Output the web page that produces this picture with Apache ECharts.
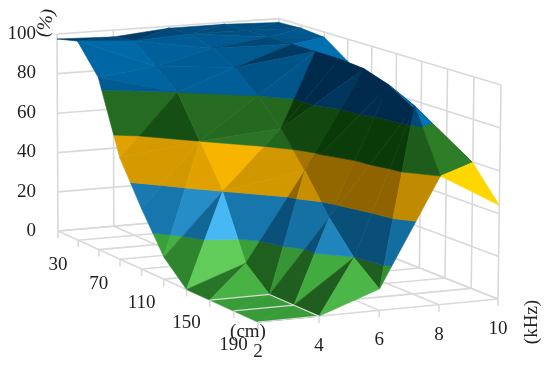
<!DOCTYPE html>
<html><head><meta charset="utf-8">
<style>html,body{margin:0;padding:0;background:#fff}#c{width:550px;height:368px}</style>
<script src="https://cdn.jsdelivr.net/npm/echarts@6/dist/echarts.min.js"></script>
</head><body><div id="c"></div>
<script>
const kHzValues = [2, 4, 6, 8, 10];
const cmValues = [30, 50, 70, 90, 110, 130, 150, 170, 190, 210];
const cmLabels = ['30', '', '70', '', '110', '', '150', '', '190', ''];
const kHzLabels = ['2', '4', '6', '8', '10'];
const pctTicks = [0, 20, 40, 60, 80, 100];
// response (%) by kHz column, one value per cm row
const at2kHz = [97.5, 100, 85.5, 50, 29.5, 10.7, 0, 0, 0, 0];
const at4kHz = [96.5, 98, 89, 80, 60, 40, 10, 0, 0, 0];
const at6kHz = [99, 99.5, 96, 90, 80, 68, 52, 34, 19.8, 10];
const at8kHz = [99, 99.5, 99.5, 99.5, 99.5, 99.5, 98.5, 94.5, 88.5, 60];
const at10kHz = [98, 98.5, 97.4, 89, 80, 72, 67, 62, 59.6, 44];
const surface = [at2kHz, at4kHz, at6kHz, at8kHz, at10kHz];
// quads split along the lower diagonal instead of the ridge
const valleyQuads = ['3,8', '2,4'];
// facets whose light differs from the plain normal-based shade (kHz index, cm index, facet[, band low])
const facetLight = { '0,3,0': 0.36, '0,3,0,40': 0.55, '0,4,1': 0.66, '1,4,1': 0.88, '0,5,1': 0.95, '0,6,1': 0.68 };

// camera: homogeneous projection of the unit cube (u=kHz, v=cm, n=%) onto the plot plane
const CAM = { xu: 225.36, xv: 173.94, xn: -1.48, x0: 58, yu: -14.91, yv: 58.48, yn: -197.3, y0: 231, wu: 0.01928, wv: -0.101, wn: -0.0085 };
const unit = (k, c, p) => [(k - kHzValues[0]) / (kHzValues[4] - kHzValues[0]), (c - cmValues[0]) / (cmValues[9] - cmValues[0]), p / 100];
function toAxes(k, c, p) {
  const [u, v, n] = unit(k, c, p);
  const w = 1 + CAM.wu * u + CAM.wv * v + CAM.wn * n;
  const sx = (CAM.xu * u + CAM.xv * v + CAM.xn * n + CAM.x0) / w;
  const sy = (CAM.yu * u + CAM.yv * v + CAM.yn * n + CAM.y0) / w;
  return [sx, (231 - sy) * 100 / 197];
}
const depth = (k, c, p) => { const [u, v, n] = unit(k, c, p); return 1 + CAM.wu * u + CAM.wv * v + CAM.wn * n; };

// bands: [low, high, colours from shadow to full light]
const bands = [
  [0, 20, ['#1f5e1e', '#3ba43b', '#5ac452', '#66d060']],
  [20, 40, ['#0a4f78', '#1878ae', '#3fb0f0', '#4cbcf8']],
  [40, 60, ['#8f6400', '#d49a00', '#f5ac00', '#ffd800']],
  [60, 80, ['#0a3a08', '#246820', '#2a7024', '#2f8028']],
  [80, 100, ['#002a4c', '#005488', '#0066a4', '#0075b8']]
];
const shadeStops = [0.2, 0.55, 0.85, 1];
const LIGHT = [0.42, 0.72, 0.5];
function shadeOf(a, b, c) {
  const A = unit(...a), B = unit(...b), C = unit(...c);
  const e = [B[0] - A[0], B[1] - A[1], B[2] - A[2]], f = [C[0] - A[0], C[1] - A[1], C[2] - A[2]];
  let n = [e[1] * f[2] - e[2] * f[1], e[2] * f[0] - e[0] * f[2], e[0] * f[1] - e[1] * f[0]];
  if (n[2] < 0) n = n.map(x => -x);
  const len = Math.hypot(...n);
  const l = Math.hypot(...LIGHT);
  return Math.max(0, (n[0] * LIGHT[0] + n[1] * LIGHT[1] + n[2] * LIGHT[2]) / (len * l));
}
function colorFor(band, s) {
  const cols = band[2];
  const rgb = h => [1, 3, 5].map(i => parseInt(h.substr(i, 2), 16));
  let k = 0;
  while (k < shadeStops.length - 2 && s > shadeStops[k + 1]) k++;
  const t = Math.min(1, Math.max(0, (s - shadeStops[k]) / (shadeStops[k + 1] - shadeStops[k])));
  const p = rgb(cols[k]), q = rgb(cols[k + 1]);
  return 'rgb(' + p.map((x, i) => Math.round(x + (q[i] - x) * t)).join(',') + ')';
}
function clipBand(tri, lo, hi) {
  const clip = (poly, keep, lim) => {
    const out = [];
    poly.forEach((p, i) => {
      const q = poly[(i + 1) % poly.length];
      const pin = keep(p[2]), qin = keep(q[2]);
      if (pin) out.push(p);
      if (pin !== qin) {
        const t = (lim - p[2]) / (q[2] - p[2]);
        out.push([p[0] + (q[0] - p[0]) * t, p[1] + (q[1] - p[1]) * t, lim]);
      }
    });
    return out;
  };
  let poly = clip(tri, z => z >= lo, lo);
  if (poly.length) poly = clip(poly, z => z <= hi, hi);
  return poly;
}

const V = (i, j) => [kHzValues[i], cmValues[j], surface[i][j]];
const tris = [];
for (let i = 0; i < 4; i++) for (let j = 0; j < 9; j++) {
  const a = V(i, j), b = V(i + 1, j), c = V(i, j + 1), d = V(i + 1, j + 1);
  const ridge = a[2] + d[2] > b[2] + c[2];
  const alongAD = valleyQuads.includes(i + ',' + j) ? !ridge : ridge;
  const pair = alongAD ? [[a, b, d], [a, d, c]] : [[a, b, c], [b, d, c]];
  pair.forEach((pts, f) => { pts.key = i + ',' + j + ',' + f; tris.push(pts); });
}
const meanDepth = t => (depth(...t[0]) + depth(...t[1]) + depth(...t[2])) / 3;
tris.sort((p, q) => meanDepth(q) - meanDepth(p));
const polys = [];
tris.forEach(t => {
  const base = shadeOf(t[0], t[1], t[2]);
  bands.forEach(b => {
    const bandKey = t.key + ',' + b[0];
    const s = bandKey in facetLight ? facetLight[bandKey] : t.key in facetLight ? facetLight[t.key] : base;
    const poly = clipBand(t, b[0], b[1]);
    if (poly.length > 2) polys.push({ poly, color: colorFor(b, s) });
  });
});

// walls and floor
const K0 = kHzValues[0], K1 = kHzValues[4], C0 = cmValues[0], C1 = cmValues[9];
const gridLines = [];
pctTicks.forEach(p => { gridLines.push([[K0, C0, p], [K1, C0, p]], [[K1, C0, p], [K1, C1, p]]); });
kHzValues.forEach(k => { gridLines.push([[k, C0, 0], [k, C0, 100]], [[k, C0, 0], [k, C1, 0]]); });
cmValues.forEach(c => { gridLines.push([[K1, c, 0], [K1, c, 100]], [[K0, c, 0], [K1, c, 0]]); });
// grid seen on the surface where it lies flat on the floor
const flatLines = [];
for (let i = 0; i < 4; i++) for (let j = 0; j < 10; j++) if (surface[i][j] === 0 && surface[i + 1][j] === 0) flatLines.push([V(i, j), V(i + 1, j)]);
for (let i = 1; i < 5; i++) for (let j = 0; j < 9; j++) if (surface[i][j] === 0 && surface[i][j + 1] === 0) flatLines.push([V(i, j), V(i, j + 1)]);

const ticks = [];
cmValues.forEach((c, j) => ticks.push({ at: [K0, c, 0], label: cmLabels[j], dy: 34 }));
kHzValues.forEach((k, i) => ticks.push({ at: [k, C1, 0], label: kHzLabels[i], dy: 30 }));

const FONT = '"Liberation Serif", serif';
const FS = 19;
const GREY = '#d9d9d9';
const lineRender = (list, stroke, width) => (params, api) => {
  const [a, b] = list[params.dataIndex];
  const p = api.coord(toAxes(...a)), q = api.coord(toAxes(...b));
  return { type: 'line', silent: true, shape: { x1: p[0], y1: p[1], x2: q[0], y2: q[1] }, style: { stroke, lineWidth: width } };
};
const idx = list => list.map((_, i) => [i]);

const chart = echarts.init(document.getElementById('c'), null, { renderer: 'canvas' });
chart.setOption({
  animation: false,
  backgroundColor: '#fff',
  grid: { left: 57, right: 50, top: 34, bottom: 137, containLabel: false },
  xAxis: { type: 'value', min: 57, max: 500, show: false },
  yAxis: {
    type: 'value', min: 0, max: 100, interval: 20,
    axisLine: { show: false }, axisTick: { show: false }, splitLine: { show: false },
    axisLabel: { margin: 21, color: '#222', fontFamily: FONT, fontSize: FS }
  },
  graphic: [
    { type: 'text', x: 46, y: 23, rotation: Math.PI / 2 - 0.25, style: { text: '(%)', fill: '#222', font: FS + 'px ' + FONT, align: 'center', verticalAlign: 'middle' } },
    { type: 'text', x: 248, y: 332, style: { text: '(cm)', fill: '#222', font: FS + 'px ' + FONT, align: 'center', verticalAlign: 'middle' } },
    { type: 'text', x: 532, y: 322, rotation: Math.PI / 2, style: { text: '(kHz)', fill: '#222', font: FS + 'px ' + FONT, align: 'center', verticalAlign: 'middle' } }
  ],
  series: [
    { type: 'custom', coordinateSystem: 'cartesian2d', silent: true, data: idx(gridLines), renderItem: lineRender(gridLines, GREY, 1.6) },
    {
      type: 'custom', coordinateSystem: 'cartesian2d', silent: true, data: idx(polys),
      renderItem: (params, api) => {
        const p = polys[params.dataIndex];
        const pts = p.poly.map(v => api.coord(toAxes(...v)));
        return { type: 'polygon', silent: true, shape: { points: pts }, style: { fill: p.color, stroke: p.color, lineWidth: 0.6 } };
      }
    },
    { type: 'custom', coordinateSystem: 'cartesian2d', silent: true, data: idx(flatLines), renderItem: lineRender(flatLines, GREY, 1.2) },
    {
      type: 'custom', coordinateSystem: 'cartesian2d', silent: true, data: idx(ticks),
      renderItem: (params, api) => {
        const t = ticks[params.dataIndex];
        const p = api.coord(toAxes(...t.at));
        return {
          type: 'group', silent: true, children: [
            { type: 'line', shape: { x1: p[0], y1: p[1], x2: p[0], y2: p[1] + 7 }, style: { stroke: GREY, lineWidth: 1.6 } },
            { type: 'text', x: p[0], y: p[1] + t.dy, style: { text: t.label, fill: '#222', font: FS + 'px ' + FONT, align: 'center', verticalAlign: 'middle' } }
          ]
        };
      }
    }
  ]
});
</script></body></html>
